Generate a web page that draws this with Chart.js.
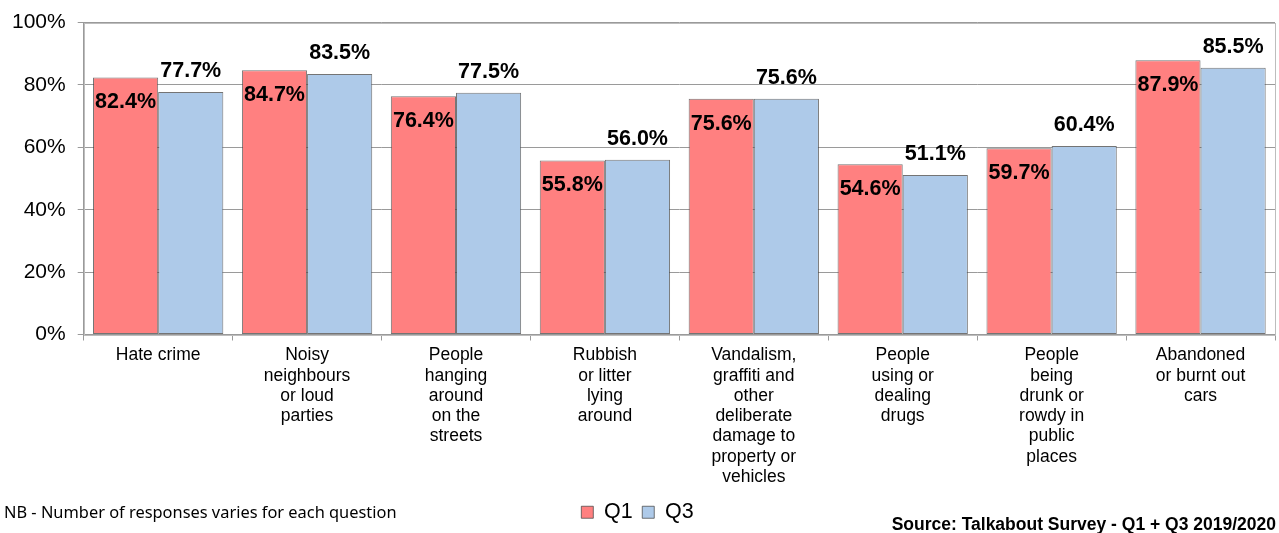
<!DOCTYPE html>
<html>
<head>
<meta charset="utf-8">
<script src="https://cdn.jsdelivr.net/npm/chart.js@4.4.1/dist/chart.umd.min.js"></script>
<style>
    body { margin: 0; background: #fff; }
    #wrap { position: relative; width: 1279px; height: 533px; }
    #note { position: absolute; left: 4px; top: 500px; font: 16.4px "Noto Sans", sans-serif; color: #000; }
    #source { position: absolute; right: 3px; top: 514px; font: bold 17.5px "Liberation Sans", Arial, sans-serif; color: #000; }
</style>
</head>
<body>
<div id="wrap">
    <canvas id="chart" width="1279" height="533"></canvas>
    <div id="note">NB - Number of responses varies for each question</div>
    <div id="source">Source: Talkabout Survey - Q1 + Q3 2019/2020</div>
</div>
<script>
var categories = [
    ["Hate crime"],
    ["Noisy", "neighbours", "or loud", "parties"],
    ["People", "hanging", "around", "on the", "streets"],
    ["Rubbish", "or litter", "lying", "around"],
    ["Vandalism,", "graffiti and", "other", "deliberate", "damage to", "property or", "vehicles"],
    ["People", "using or", "dealing", "drugs"],
    ["People", "being", "drunk or", "rowdy in", "public", "places"],
    ["Abandoned", "or burnt out", "cars"]
];
var q1 = [82.4, 84.7, 76.4, 55.8, 75.6, 54.6, 59.7, 87.9];
var q3 = [77.7, 83.5, 77.5, 56.0, 75.6, 51.1, 60.4, 85.5];
var yTicks = [0, 20, 40, 60, 80, 100];

var font = '"Liberation Sans", Arial, sans-serif';

// value labels: Q1 inside the top of the bar, Q3 above it
var valueLabels = {
    id: 'valueLabels',
    afterDatasetsDraw: function (chart) {
        var ctx = chart.ctx;
        ctx.save();
        ctx.font = 'bold 21.5px ' + font;
        ctx.fillStyle = '#000';
        ctx.textAlign = 'center';
        ctx.textBaseline = 'middle';
        chart.data.datasets.forEach(function (ds, i) {
            chart.getDatasetMeta(i).data.forEach(function (bar, j) {
                var y = i === 0 ? bar.y + 25 : bar.y - 21;
                ctx.fillText(ds.data[j].toFixed(1) + '%', bar.x, y);
            });
        });
        ctx.restore();
    }
};

// grey frame round the plot area
var plotFrame = {
    id: 'plotFrame',
    beforeDatasetsDraw: function (chart) {
        var a = chart.chartArea, ctx = chart.ctx;
        ctx.save();
        ctx.strokeStyle = '#bdbdbd';
        ctx.lineWidth = 1;
        ctx.strokeRect(Math.round(a.left) + 0.5, Math.round(a.top) + 0.5, Math.round(a.right - a.left), Math.round(a.bottom - a.top));
        ctx.restore();
    }
};

new Chart(document.getElementById('chart'), {
    type: 'bar',
    data: {
        labels: categories,
        datasets: [{
            label: 'Q1',
            data: q1,
            backgroundColor: 'rgb(255,128,128)',
            borderColor: 'rgba(70,70,70,0.75)',
            borderWidth: 1,
            borderSkipped: false
        }, {
            label: 'Q3',
            data: q3,
            backgroundColor: 'rgb(174,202,233)',
            borderColor: 'rgba(70,70,70,0.75)',
            borderWidth: 1,
            borderSkipped: false
        }]
    },
    options: {
        responsive: false,
        animation: false,
        layout: { padding: { left: 0, right: 4, top: 8, bottom: 0 } },
        datasets: { bar: { categoryPercentage: 0.875, barPercentage: 1 } },
        scales: {
            x: {
                grid: { drawOnChartArea: false, tickLength: 6, color: '#9a9a9a' },
                border: { color: '#9a9a9a' },
                ticks: { color: '#000', font: { family: font, size: 17.5, lineHeight: 1.155 }, padding: 5, maxRotation: 0, autoSkip: false }
            },
            y: {
                min: 0,
                max: 100,
                afterBuildTicks: function (axis) {
                    axis.ticks = yTicks.map(function (v) { return { value: v }; });
                },
                grid: { color: '#9a9a9a', tickLength: 6 },
                border: { color: '#9a9a9a' },
                ticks: {
                    color: '#000',
                    font: { family: font, size: 21, lineHeight: 1 },
                    padding: 12,
                    callback: function (v) { return v + '%'; }
                }
            }
        },
        plugins: {
            legend: {
                position: 'bottom',
                labels: { color: '#000', font: { family: font, size: 21.5 }, boxWidth: 12, boxHeight: 12, padding: 9.5 }
            },
            tooltip: { enabled: false }
        }
    },
    plugins: [plotFrame, valueLabels]
});
</script>
</body>
</html>
